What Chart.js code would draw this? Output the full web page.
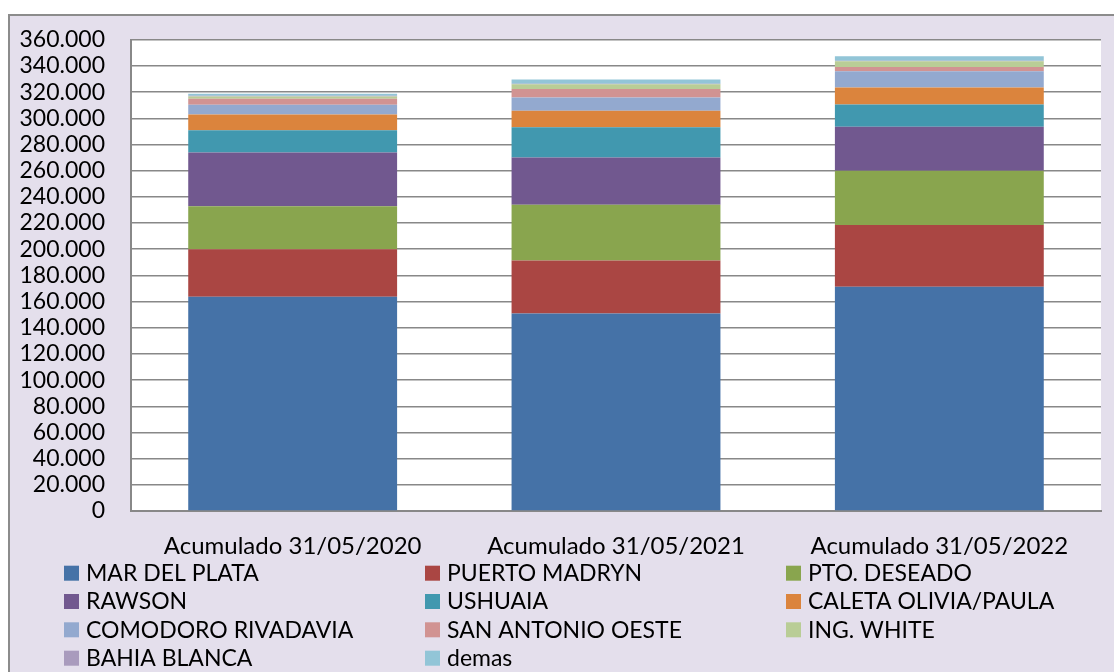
<!DOCTYPE html>
<html>
<head>
<meta charset="utf-8">
<script src="https://cdn.jsdelivr.net/npm/chart.js@4.4.1/dist/chart.umd.min.js"></script>
<style>
html,body{margin:0;padding:0;background:#fff;}
#wrap{width:1114px;height:672px;position:relative;}
</style>
</head>
<body>
<div id="wrap"><canvas id="c" width="1114" height="672"></canvas></div>
<script>
const categories = ["Acumulado 31/05/2020", "Acumulado 31/05/2021", "Acumulado 31/05/2022"];
const seriesNames = ["MAR DEL PLATA", "PUERTO MADRYN", "PTO. DESEADO", "RAWSON", "USHUAIA", "CALETA OLIVIA/PAULA", "COMODORO RIVADAVIA", "SAN ANTONIO OESTE", "ING. WHITE", "BAHIA BLANCA", "demas"];
const marDelPlata   = [163700, 150800, 171300];
const puertoMadryn  = [36300, 40600, 47200];
const ptoDeseado    = [32900, 42500, 41500];
const rawson        = [41000, 36200, 33500];
const ushuaia       = [17000, 23100, 17100];
const caletaOlivia  = [12100, 12600, 12900];
const comodoro      = [7300, 10100, 12500];
const sanAntonio    = [4600, 6600, 3300];
const ingWhite      = [1800, 3500, 4300];
const bahiaBlanca   = [500, 400, 400];
const demas         = [1500, 3200, 3400];
const yTicks = [0, 20000, 40000, 60000, 80000, 100000, 120000, 140000, 160000, 180000, 200000, 220000, 240000, 260000, 280000, 300000, 320000, 340000, 360000];

const seriesValues = [marDelPlata, puertoMadryn, ptoDeseado, rawson, ushuaia, caletaOlivia, comodoro, sanAntonio, ingWhite, bahiaBlanca, demas];
const colors = ["#4572A7", "#AA4643", "#89A54E", "#71588F", "#4198AF", "#DB843D", "#93A9CF", "#D19392", "#B9CD96", "#A99BBD", "#92C5D7"];

const FONT = "Lato, 'Open Sans', sans-serif";

function fmt(v){
  if (v === 0) return "0";
  return String(v).replace(/\B(?=(\d{3})+(?!\d))/g, ".");
}

const bgPlugin = {
  id: 'bg',
  beforeDraw(chart){
    const ctx = chart.ctx;
    ctx.save();
    ctx.fillStyle = '#ffffff';
    ctx.fillRect(0, 0, chart.width, chart.height);
    ctx.fillStyle = '#E4DFEC';
    ctx.fillRect(9, 15, chart.width - 9 + 5, chart.height - 15 + 5);
    ctx.strokeStyle = '#8c8c8c';
    ctx.lineWidth = 2;
    ctx.strokeRect(9, 15, chart.width + 10, chart.height + 10);
    const a = chart.chartArea;
    ctx.fillStyle = '#ffffff';
    ctx.fillRect(a.left, a.top, a.right - a.left, a.bottom - a.top);
    ctx.restore();
  }
};

const legendPlugin = {
  id: 'gridLegend',
  afterDraw(chart){
    const ctx = chart.ctx;
    ctx.save();
    ctx.font = "23px " + FONT;
    ctx.textBaseline = 'middle';
    ctx.textAlign = 'left';
    const colX = [64, 425, 786];
    const rowY = [572.7, 601, 629.3, 657.7];
    chart.data.datasets.forEach((ds, i) => {
      const col = i % 3, row = Math.floor(i / 3);
      const x = colX[col], y = rowY[row];
      ctx.fillStyle = ds.backgroundColor;
      ctx.fillRect(x, y - 7, 15, 15);
      ctx.fillStyle = '#000';
      ctx.fillText(ds.label, x + 22, y + 1);
    });
    ctx.restore();
  }
};

new Chart(document.getElementById('c'), {
  type: 'bar',
  data: {
    labels: categories,
    datasets: seriesNames.map((name, i) => ({
      label: name,
      data: seriesValues[i],
      backgroundColor: colors[i],
      borderWidth: 0,
      categoryPercentage: 0.646,
      barPercentage: 1
    }))
  },
  options: {
    responsive: false,
    animation: false,
    devicePixelRatio: 1,
    layout: { padding: { top: 37, right: 13, bottom: 0, left: 0 } },
    plugins: {
      legend: { display: false },
      tooltip: { enabled: false }
    },
    scales: {
      x: {
        stacked: true,
        grid: { display: false, drawTicks: false },
        border: { display: true, color: '#888888', width: 2 },
        ticks: { color: '#000', font: { family: FONT, size: 24 }, padding: 21, maxRotation: 0, autoSkip: false },
        afterFit(scale){ scale.height = 161; }
      },
      y: {
        stacked: true,
        min: 0,
        max: 360000,
        afterBuildTicks(scale){ scale.ticks = yTicks.map(v => ({ value: v })); },
        grid: { color: '#888888', lineWidth: 1.5, drawTicks: false },
        border: { display: true, color: '#888888', width: 2 },
        ticks: { color: '#000', font: { family: FONT, size: 23 }, padding: 26, autoSkip: false, callback: (v) => fmt(v) },
        afterFit(scale){ scale.width = 131; }
      }
    }
  },
  plugins: [bgPlugin, legendPlugin]
});
</script>
</body>
</html>
